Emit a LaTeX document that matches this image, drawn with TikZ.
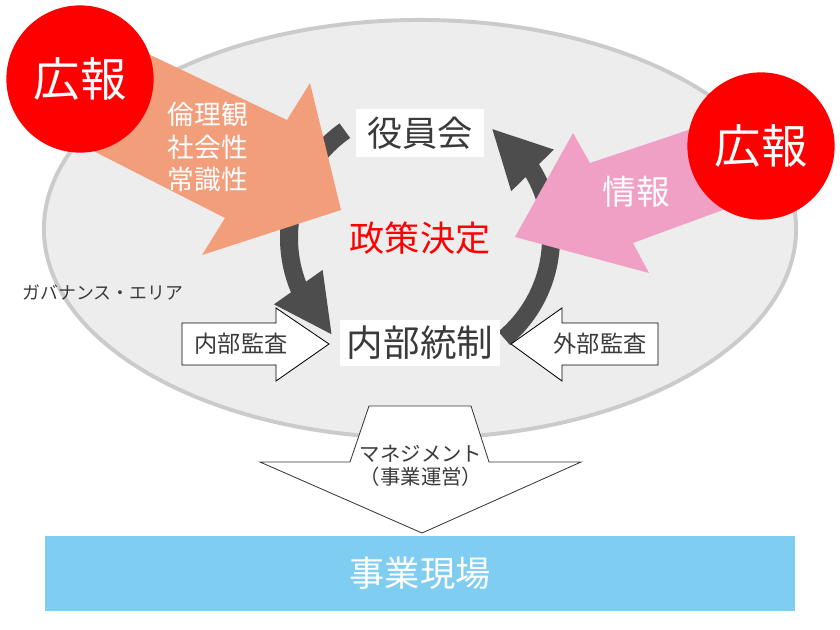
\documentclass[tikz,border=0pt]{standalone}
\usepackage{fontspec}
\setmainfont{Noto Sans CJK JP}
\usetikzlibrary{arrows.meta,bending}
\definecolor{koho}{HTML}{FF0000}
\definecolor{rinri}{HTML}{F39E7A}
\definecolor{joho}{HTML}{F0A0C4}
\definecolor{cyclegray}{HTML}{4D4D4D}
\definecolor{area}{HTML}{EDEDED}
\definecolor{rim}{HTML}{CBCBCB}
\definecolor{genba}{HTML}{7FCDF1}
\definecolor{ink}{HTML}{3A3A3A}

\begin{document}
\begin{tikzpicture}[x=0.025cm,y=0.025cm,
    kohocircle/.style={circle,fill=koho,minimum size=3.68cm,inner sep=0pt,
      text=white,font=\fontsize{33}{36}\selectfont},
    loop/.style={line width=12.8pt,draw=cyclegray,
      -{Triangle[length=42pt,width=39pt]}},
    whitebox/.style={fill=white,text=ink,inner sep=0pt,font=\fontsize{25}{28}\selectfont},
    audit/.style={draw=black,fill=white,line width=0.6pt,line join=miter},
    label/.style={text=ink,font=\fontsize{16.5}{19}\selectfont}]
  \useasboundingbox (0,0) rectangle (840,-630);

  % governance area
  \draw[fill=area,draw=rim,line width=2.8pt] (420,-229) ellipse[x radius=9.4cm,y radius=5.225cm];
  \node[text=ink,font=\fontsize{12.7}{15}\selectfont] (area) at (103,-293) {ガバナンス・エリア};

  % cycle
  \coordinate (hub) at (420,-238);
  \draw[loop] (hub) ++(125:131) arc[start angle=125,end angle=228,radius=3.275cm];
  \draw[loop] (hub) ++(-50:131) arc[start angle=-50,end angle=57,radius=3.275cm];
  \node[whitebox,minimum width=3.175cm,minimum height=1.175cm] (yakuin) at (420,-133) {役員会};
  \node[whitebox,minimum width=3.975cm,minimum height=1.15cm,font=\fontsize{26}{29}\selectfont] (naibu) at (420,-343) {内部統制};
  \node[text=koho,font=\fontsize{25}{28}\selectfont] (seisaku) at (hub) {政策決定};

  % inputs
  \fill[rinri] (100,-31) -- (287,-120) -- (310,-83) -- (341,-210) -- (202,-255) -- (225,-218) -- (60,-134) -- cycle;
  \fill[joho] (760,-106) -- (590,-163) -- (573,-133) -- (515,-237) -- (649,-273) -- (633,-243) -- (780,-189) -- cycle;
  \foreach \x/\y/\n in {80/79/kohoL, 761/146/kohoR}
    \node[kohocircle] (\n) at (\x,-\y) {広報};
  \node[text=white,align=center,font=\fontsize{19}{23}\selectfont] (rinrikan) at (208,-147) {倫理観\\社会性\\常識性};
  \node[text=white,font=\fontsize{24}{27}\selectfont] (jouhou) at (636,-192) {情報};

  % audits
  \draw[audit] (182,-323) -- (276,-323) -- (276,-308) -- (329,-344) -- (276,-381) -- (276,-365) -- (182,-365) -- cycle;
  \draw[audit] (658,-323) -- (562,-323) -- (562,-308) -- (511,-344) -- (562,-381) -- (562,-365) -- (658,-365) -- cycle;
  \node[label] (naikansa) at (241,-344) {内部監査};
  \node[label] (gaikansa) at (600,-344) {外部監査};

  % management
  \draw[audit,draw=ink] (369,-406) -- (471,-406) -- (489,-462) -- (581,-462) -- (422,-533) -- (260,-462) -- (350,-462) -- cycle;
  \node[text=ink,align=center,font=\fontsize{14.5}{16.5}\selectfont] (manage) at (421,-466) {マネジメント\\（事業運営）};

  % field
  \node[fill=genba,minimum width=18.75cm,minimum height=1.875cm,inner sep=0pt,
    text=white,font=\fontsize{25}{28}\selectfont] (genba) at (420,-573.5) {事業現場};
\end{tikzpicture}
\end{document}
